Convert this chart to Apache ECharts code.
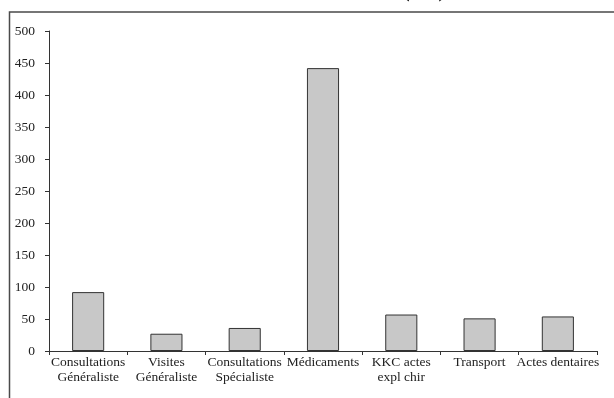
<!DOCTYPE html>
<html>
<head>
<meta charset="utf-8">
<script src="https://cdn.jsdelivr.net/npm/echarts@6/dist/echarts.min.js"></script>
<style>
html,body{margin:0;padding:0;background:#fff;}
#c{width:614px;height:398px;}
</style>
</head>
<body>
<div id="c"></div>
<script>
const categories = ['Consultations\nGénéraliste', 'Visites\nGénéraliste', 'Consultations\nSpécialiste', 'Médicaments', 'KKC actes\nexpl chir', 'Transport', 'Actes dentaires'];
const values = [92, 27, 36, 442, 57, 51, 54];
const yTicks = { min: 0, max: 500, interval: 50 };

const FONT = '"Liberation Serif", "DejaVu Serif", serif';
const chart = echarts.init(document.getElementById('c'), null, { renderer: 'canvas' });
chart.setOption({
  animation: false,
  backgroundColor: '#fff',
  graphic: [
    { type: 'rect', shape: { x: 9.5, y: 12, width: 700, height: 500 }, style: { fill: 'none', stroke: '#4a4a4a', lineWidth: 1.5 }, silent: true },
    { type: 'text', left: 403, top: -18, style: { text: '(M€)', font: 'bold 20px ' + FONT, fill: '#222' }, silent: true }
  ],
  grid: { left: 49, right: 17, top: 31, bottom: 47 },
  xAxis: {
    type: 'category',
    data: categories,
    axisLine: { lineStyle: { color: '#333', width: 1 } },
    axisTick: { show: true, length: 4, lineStyle: { color: '#333' } },
    axisLabel: { interval: 0, color: '#222', fontFamily: FONT, fontSize: 13.5, lineHeight: 15, margin: 4 }
  },
  yAxis: {
    type: 'value',
    min: yTicks.min, max: yTicks.max, interval: yTicks.interval,
    splitLine: { show: false },
    axisLine: { show: true, lineStyle: { color: '#333', width: 1 } },
    axisTick: { show: true, length: 4, lineStyle: { color: '#333' } },
    axisLabel: { color: '#222', fontFamily: FONT, fontSize: 13.5, margin: 14 }
  },
  series: [{
    type: 'bar',
    data: values,
    barWidth: '41%',
    itemStyle: { color: '#c8c8c8', borderColor: '#333', borderWidth: 1 }
  }]
});
</script>
</body>
</html>
